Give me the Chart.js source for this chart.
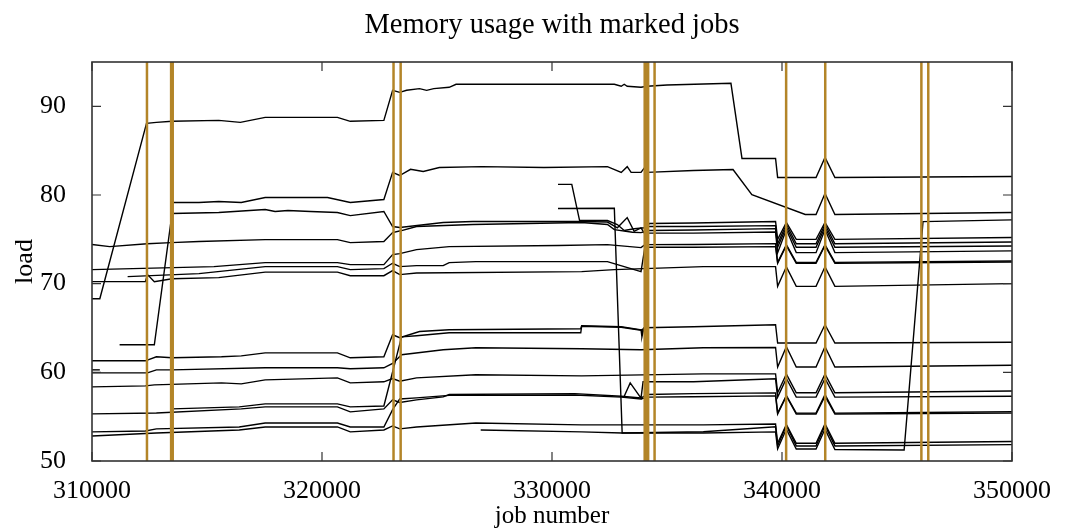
<!DOCTYPE html>
<html>
<head>
<meta charset="utf-8">
<title>Memory usage with marked jobs</title>
<script src="https://cdn.jsdelivr.net/npm/chart.js@4.4.1/dist/chart.umd.min.js"></script>
<style>
  html, body { margin: 0; padding: 0; background: #fff; }
  canvas { display: block; }
</style>
</head>
<body>
<canvas id="memChart" width="1066" height="529"></canvas>
<script>
// Chart text
const chartTitle = "Memory usage with marked jobs";
const xTitle = "job number";
const yTitle = "load";

// Axis ticks
const xTicks = [310000, 320000, 330000, 340000, 350000];
const yTicks = [50, 60, 70, 80, 90];

// Marked jobs (vertical lines)
const markedJobs = [312390, 313440, 313510, 323110, 323420, 334030, 334100, 334180, 334460, 340180, 341880, 346060, 346360];

// Memory load per node: [job number, load]
const loadA = [[310000, 68.3], [310340, 68.3], [312370, 88.08], [312800, 88.19], [313480, 88.31], [315510, 88.42], [316450, 88.19], [317530, 88.76], [320670, 88.76], [321230, 88.31], [322690, 88.42], [323070, 91.81], [323380, 91.58], [323680, 91.81], [324240, 92.0], [324550, 91.8], [324860, 92.0], [325530, 92.15], [325830, 92.49], [332710, 92.49], [333010, 92.26], [333140, 92.49], [333270, 92.26], [333870, 92.15], [334130, 92.26], [335000, 92.4], [337780, 92.6], [338260, 84.12], [339720, 84.12], [339810, 81.98], [341480, 81.98], [341870, 84.24], [342300, 81.98], [350000, 82.09]];
const loadB = [[313480, 79.15], [314650, 79.15], [315510, 79.27], [316490, 79.15], [317530, 79.72], [320240, 79.72], [321230, 79.15], [322690, 79.49], [323070, 82.55], [323380, 82.2], [323850, 82.9], [324400, 82.66], [325100, 83.1], [326950, 83.2], [329650, 83.1], [332410, 83.2], [333010, 82.55], [333270, 83.2], [333440, 82.55], [333870, 82.55], [334000, 83.0], [334130, 82.55], [336150, 82.77], [337870, 82.88], [338690, 80.05], [341010, 77.8], [341480, 77.8], [341870, 80.17], [342300, 77.8], [350000, 78.02]];
const loadC = [[311200, 63.11], [312710, 63.11], [313480, 77.91], [315510, 78.02], [317530, 78.36], [317960, 78.14], [318520, 78.25], [319500, 78.14], [320670, 78.02], [321230, 77.68], [322690, 78.14], [323070, 76.44], [323380, 76.33], [325270, 76.9], [326560, 77.01], [331200, 77.01], [332410, 76.95], [332840, 76.3], [333270, 77.45], [333570, 75.9], [333870, 76.3], [334040, 75.6], [334220, 76.78], [336150, 76.85], [339720, 77.01], [339810, 75.0], [340190, 76.9], [340620, 75.0], [341480, 75.0], [341870, 76.9], [342300, 75.0], [350000, 75.2]];
const loadD = [[310000, 71.58], [315300, 71.92], [317530, 72.37], [320670, 72.37], [321230, 72.15], [322690, 72.15], [323070, 73.28], [323380, 73.39], [324110, 73.84], [325530, 74.18], [330260, 74.3], [332410, 74.4], [333870, 74.07], [334040, 74.4], [336150, 74.41], [339720, 74.52], [339810, 72.4], [340190, 74.4], [340620, 72.4], [341480, 72.4], [341870, 74.4], [342300, 72.4], [350000, 72.55]];
const loadE = [[310000, 70.23], [312320, 70.23], [312410, 71.02], [312710, 70.23], [313480, 70.56], [315510, 70.68], [317530, 71.3], [320670, 71.3], [321230, 70.9], [322690, 70.9], [323070, 71.47], [323380, 71.02], [324110, 71.2], [331290, 71.36], [332710, 71.58], [336580, 71.92], [339720, 71.92], [339810, 69.7], [340190, 71.9], [340620, 69.7], [341480, 69.7], [341870, 71.9], [342300, 69.7], [350000, 70.0]];
const loadF = [[311550, 70.79], [314650, 71.13], [317530, 71.92], [320670, 71.92], [321230, 71.58], [322690, 71.7], [323070, 72.3], [323380, 71.92], [324110, 72.03], [325270, 72.03], [325530, 72.37], [326690, 72.49], [332410, 72.49], [333870, 71.36], [334040, 74.1], [336150, 74.1], [339720, 74.18], [339810, 72.3], [340190, 74.3], [340620, 72.3], [341480, 72.3], [341870, 74.3], [342300, 72.3], [350000, 72.45]];
const loadG = [[310000, 74.41], [310770, 74.18], [312400, 74.5], [313440, 74.63], [314650, 74.75], [317530, 74.97], [320670, 74.97], [321230, 74.63], [322690, 74.75], [323070, 75.76], [323460, 75.99], [324110, 76.44], [326560, 76.67], [331290, 76.89], [332410, 76.67], [332710, 76.1], [333500, 75.8], [333870, 75.76], [334220, 76.0], [336150, 76.05], [339720, 76.21], [339810, 74.1], [340190, 76.4], [340620, 74.1], [341480, 74.1], [341870, 76.4], [342300, 74.1], [350000, 74.25]];
const loadH = [[330260, 81.2], [330860, 81.2], [331200, 77.12], [332410, 77.12], [332840, 76.67], [333140, 76.0], [333570, 76.2], [334040, 76.3], [334220, 76.44], [336150, 76.44], [339720, 76.55], [339810, 74.5], [340190, 76.7], [340620, 74.5], [341480, 74.5], [341870, 76.7], [342300, 74.5], [350000, 74.7]];
const loadI = [[330260, 78.47], [332710, 78.5], [333050, 53.16], [336580, 53.16], [339720, 53.28], [339810, 51.36], [340190, 53.6], [340620, 51.36], [341480, 51.36], [341870, 53.6], [342300, 51.3], [345310, 51.24], [346130, 77.0], [350000, 77.2]];
const loadJ = [[310000, 61.3], [312320, 61.3], [312800, 61.75], [313480, 61.64], [315630, 61.75], [316490, 61.86], [317530, 62.2], [320670, 62.2], [321230, 61.64], [322690, 61.75], [323070, 64.24], [323380, 63.9], [324240, 64.6], [325530, 64.8], [331250, 64.92], [331290, 65.25], [333010, 65.14], [333870, 64.8], [333910, 64.0], [334000, 65.03], [336150, 65.14], [339720, 65.37], [339810, 63.3], [341480, 63.3], [341870, 65.37], [342300, 63.3], [350000, 63.4]];
const loadK = [[313480, 55.88], [316400, 56.1], [317530, 56.44], [320670, 56.44], [321230, 56.1], [322690, 56.2], [323460, 64.0], [324110, 64.12], [325530, 64.46], [331250, 64.46], [331290, 65.2], [333010, 65.08], [333870, 64.75], [334000, 64.95], [334040, 75.7], [336150, 75.7], [339720, 75.82], [339810, 73.5], [340190, 76.1], [340620, 73.5], [341480, 73.5], [341870, 76.1], [342300, 73.5], [350000, 73.7]];
const loadL = [[310000, 59.94], [312410, 59.94], [312800, 60.28], [313480, 60.28], [317530, 60.51], [320670, 60.51], [321230, 60.4], [322690, 60.51], [323070, 61.0], [323460, 61.98], [325270, 62.54], [326690, 62.77], [331290, 62.66], [333870, 62.54], [336580, 62.77], [339720, 62.8], [339810, 60.6], [340190, 62.9], [340620, 60.6], [341480, 60.6], [341870, 62.9], [342300, 60.6], [350000, 60.8]];
const loadM = [[310000, 58.36], [312320, 58.47], [312710, 58.59], [315630, 58.81], [316490, 58.7], [317530, 59.15], [320670, 59.38], [321230, 58.81], [322690, 58.93], [323070, 59.3], [323380, 59.0], [324110, 59.38], [326690, 59.72], [331290, 59.6], [336580, 59.83], [339720, 59.83], [339810, 57.7], [340190, 59.8], [340620, 57.7], [341480, 57.7], [341870, 59.8], [342300, 57.7], [350000, 57.9]];
const loadN = [[333140, 57.3], [333400, 58.81], [333870, 57.1], [333960, 58.93], [336150, 58.93], [339720, 59.27], [339810, 57.2], [340190, 59.3], [340620, 57.2], [341480, 57.2], [341870, 59.3], [342300, 57.2], [350000, 57.3]];
const loadO = [[310000, 55.31], [312800, 55.42], [316490, 55.88], [317530, 56.1], [320670, 56.1], [321230, 55.54], [322690, 55.88], [323070, 56.9], [323380, 56.6], [324110, 56.9], [325270, 57.23], [325530, 57.5], [330990, 57.6], [333010, 57.3], [333870, 57.1], [334130, 57.5], [336150, 57.6], [339720, 57.68], [339810, 55.4], [340190, 57.4], [340620, 55.4], [341480, 55.4], [341870, 57.5], [342300, 55.4], [350000, 55.55]];
const loadP = [[310000, 53.28], [312320, 53.39], [312800, 53.62], [316400, 53.84], [317530, 54.29], [320670, 54.29], [321230, 53.84], [322690, 53.84], [323070, 55.8], [323380, 57.0], [324110, 57.12], [325530, 57.4], [331000, 57.45], [333010, 57.2], [333870, 57.0], [334130, 57.2], [336150, 57.25], [339720, 57.34], [339810, 55.3], [340190, 57.3], [340620, 55.3], [341480, 55.3], [341870, 57.3], [342300, 55.3], [350000, 55.4]];
const loadQ = [[310000, 52.82], [312800, 53.16], [316400, 53.5], [317530, 53.84], [320670, 53.84], [321230, 53.28], [322690, 53.5], [323070, 53.95], [323380, 53.62], [324110, 53.84], [326690, 54.29], [331290, 54.07], [336580, 54.07], [339720, 54.18], [339810, 52.0], [340190, 54.1], [340620, 52.0], [341480, 52.0], [341870, 54.2], [342300, 52.0], [350000, 52.2]];
const loadR = [[326900, 53.5], [331290, 53.28], [333050, 53.16], [336580, 53.3], [339720, 53.85], [339810, 51.7], [340190, 54.0], [340620, 51.7], [341480, 51.7], [341870, 54.0], [342300, 51.7], [350000, 51.85]];
const loadStub = [[310000, 60.28], [310340, 60.28]];

const allLoads = [loadA, loadB, loadC, loadD, loadE, loadF, loadG, loadH, loadI, loadJ, loadK, loadL, loadM, loadN, loadO, loadP, loadQ, loadR, loadStub];

const FONT = '"Liberation Serif", "DejaVu Serif", serif';
const GOLD = "#b38528";

// Build datasets: marker lines first so they are drawn on top
const datasets = [];
markedJobs.forEach(job => {
  datasets.push({
    data: [{ x: job, y: 50 }, { x: job, y: 95 }],
    borderColor: GOLD,
    borderWidth: 2.5,
    order: 0
  });
});
allLoads.forEach(s => {
  datasets.push({
    data: s.map(p => ({ x: p[0], y: p[1] })),
    borderColor: "#000",
    borderWidth: 1.4,
    order: 1
  });
});

// Box, inward ticks and centred title (gnuplot style)
const framePlugin = {
  id: "frame",
  afterDatasetsDraw(chart) {
    const { ctx, chartArea: a, scales: { x, y } } = chart;
    ctx.save();
    ctx.strokeStyle = "#333";
    ctx.lineWidth = 1.6;
    ctx.strokeRect(a.left, a.top, a.right - a.left, a.bottom - a.top);
    ctx.lineWidth = 1.2;
    ctx.beginPath();
    xTicks.forEach(v => {
      const px = x.getPixelForValue(v);
      ctx.moveTo(px, a.bottom); ctx.lineTo(px, a.bottom - 9);
      ctx.moveTo(px, a.top); ctx.lineTo(px, a.top + 9);
    });
    yTicks.forEach(v => {
      const py = y.getPixelForValue(v);
      ctx.moveTo(a.left, py); ctx.lineTo(a.left + 9, py);
      ctx.moveTo(a.right, py); ctx.lineTo(a.right - 9, py);
    });
    ctx.stroke();

    ctx.font = "28.5px " + FONT;
    ctx.fillStyle = "#000";
    ctx.textAlign = "center";
    ctx.textBaseline = "middle";
    ctx.fillText(chartTitle, (a.left + a.right) / 2, 26);
    ctx.restore();
  }
};

new Chart(document.getElementById("memChart"), {
  type: "scatter",
  data: { datasets },
  options: {
    responsive: false,
    animation: false,
    devicePixelRatio: 1,
    showLine: true,
    elements: {
      point: { radius: 0, hoverRadius: 0 },
      line: { tension: 0, fill: false }
    },
    layout: { padding: { left: 0, right: 44, top: 62, bottom: 0 } },
    plugins: {
      legend: { display: false },
      tooltip: { enabled: false },
      title: { display: false }
    },
    scales: {
      x: {
        type: "linear",
        min: 310000,
        max: 350000,
        afterBuildTicks: s => { s.ticks = xTicks.map(v => ({ value: v })); },
        afterFit: s => { s.height = 68; },
        grid: { display: false, drawTicks: false },
        border: { display: false },
        ticks: {
          autoSkip: false,
          maxRotation: 0,
          padding: 15,
          color: "#000",
          font: { family: FONT, size: 26 },
          callback: v => String(v)
        },
        title: {
          display: true,
          text: xTitle,
          color: "#000",
          font: { family: FONT, size: 25, lineHeight: 1 },
          padding: { top: 0, bottom: 0 }
        }
      },
      y: {
        type: "linear",
        min: 50,
        max: 95,
        afterBuildTicks: s => { s.ticks = yTicks.map(v => ({ value: v })); },
        afterFit: s => { s.width = 92; },
        grid: { display: false, drawTicks: false },
        border: { display: false },
        ticks: {
          padding: 26,
          color: "#000",
          font: { family: FONT, size: 26 },
          callback: v => String(v)
        },
        title: {
          display: true,
          text: yTitle,
          color: "#000",
          font: { family: FONT, size: 26, lineHeight: 1 },
          padding: { top: 12, bottom: 0 }
        }
      }
    }
  },
  plugins: [framePlugin]
});
</script>
</body>
</html>
